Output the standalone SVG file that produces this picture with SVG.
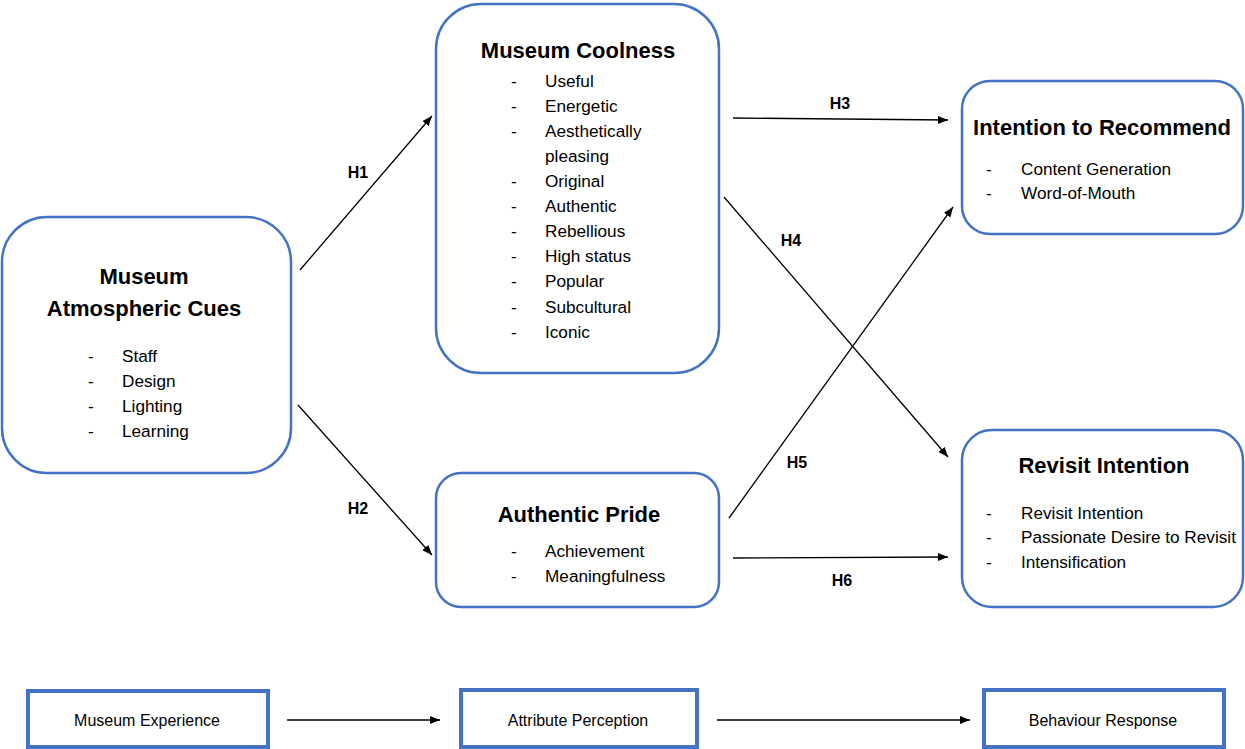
<svg xmlns="http://www.w3.org/2000/svg" width="1245" height="749" viewBox="0 0 1245 749">
<defs>
<marker id="ah" viewBox="0 0 10 10" refX="10" refY="5" markerWidth="10" markerHeight="10" markerUnits="userSpaceOnUse" orient="auto">
<path d="M0,1 L10,5 L0,9 Z" fill="#000"/>
</marker>
<style>
.box{fill:#fff;stroke:#4472C4;stroke-width:2.5}
.sq{fill:#fff;stroke:#4472C4;stroke-width:4}
.t{font-family:"Liberation Sans",Arial,sans-serif;font-weight:bold;font-size:22px;fill:#000;text-anchor:middle}
.i{font-family:"Liberation Sans",Arial,sans-serif;font-size:17.2px;fill:#000}
.h{font-family:"Liberation Sans",Arial,sans-serif;font-weight:bold;font-size:16px;fill:#000;text-anchor:middle}
.b{font-family:"Liberation Sans",Arial,sans-serif;font-size:16px;fill:#000;text-anchor:middle}
.c{stroke:#000;stroke-width:1.3;fill:none;marker-end:url(#ah)}
</style>
</defs>
<rect width="1245" height="749" fill="#fff"/>

<g id="connectors">
<line class="c" x1="300" y1="270" x2="432" y2="116"/>
<line class="c" x1="298" y1="405" x2="432" y2="555"/>
<line class="c" x1="733" y1="118" x2="948" y2="120"/>
<line class="c" x1="724" y1="197" x2="948" y2="457"/>
<line class="c" x1="729" y1="518" x2="953" y2="207"/>
<line class="c" x1="733" y1="558" x2="948" y2="557"/>
<line class="c" x1="287" y1="720" x2="440" y2="720"/>
<line class="c" x1="717" y1="720" x2="970" y2="720"/>
<text class="h" x="358" y="178">H1</text>
<text class="h" x="358" y="514">H2</text>
<text class="h" x="840" y="109">H3</text>
<text class="h" x="791" y="246">H4</text>
<text class="h" x="797" y="468">H5</text>
<text class="h" x="842" y="586">H6</text>
</g>

<g id="cues">
<rect class="box" x="2" y="217" width="289" height="256" rx="45"/>
<text class="t" x="144" y="284">Museum</text>
<text class="t" x="144" y="316">Atmospheric Cues</text>
<text class="i" x="88" y="362">-</text><text class="i" x="122" y="362">Staff</text>
<text class="i" x="88" y="387">-</text><text class="i" x="122" y="387">Design</text>
<text class="i" x="88" y="412">-</text><text class="i" x="122" y="412">Lighting</text>
<text class="i" x="88" y="437">-</text><text class="i" x="122" y="437">Learning</text>
</g>

<g id="coolness">
<rect class="box" x="436" y="4" width="283" height="369" rx="45"/>
<text class="t" x="578" y="58">Museum Coolness</text>
<text class="i" x="511" y="87">-</text><text class="i" x="545" y="87">Useful</text>
<text class="i" x="511" y="112">-</text><text class="i" x="545" y="112">Energetic</text>
<text class="i" x="511" y="137">-</text><text class="i" x="545" y="137">Aesthetically</text>
<text class="i" x="545" y="162">pleasing</text>
<text class="i" x="511" y="187">-</text><text class="i" x="545" y="187">Original</text>
<text class="i" x="511" y="212">-</text><text class="i" x="545" y="212">Authentic</text>
<text class="i" x="511" y="237">-</text><text class="i" x="545" y="237">Rebellious</text>
<text class="i" x="511" y="262">-</text><text class="i" x="545" y="262">High status</text>
<text class="i" x="511" y="287">-</text><text class="i" x="545" y="287">Popular</text>
<text class="i" x="511" y="313">-</text><text class="i" x="545" y="313">Subcultural</text>
<text class="i" x="511" y="338">-</text><text class="i" x="545" y="338">Iconic</text>
</g>

<g id="pride">
<rect class="box" x="436" y="473" width="283" height="134" rx="25"/>
<text class="t" x="579" y="522">Authentic Pride</text>
<text class="i" x="511" y="557">-</text><text class="i" x="545" y="557">Achievement</text>
<text class="i" x="511" y="582">-</text><text class="i" x="545" y="582">Meaningfulness</text>
</g>

<g id="recommend">
<rect class="box" x="962" y="81" width="281" height="153" rx="28"/>
<text class="t" x="1102" y="135">Intention to Recommend</text>
<text class="i" x="986" y="175">-</text><text class="i" x="1021" y="175">Content Generation</text>
<text class="i" x="986" y="199">-</text><text class="i" x="1021" y="199">Word-of-Mouth</text>
</g>

<g id="revisit">
<rect class="box" x="962" y="430" width="281" height="177" rx="30"/>
<text class="t" x="1104" y="473">Revisit Intention</text>
<text class="i" x="986" y="519">-</text><text class="i" x="1021" y="519">Revisit Intention</text>
<text class="i" x="986" y="543">-</text><text class="i" x="1021" y="543">Passionate Desire to Revisit</text>
<text class="i" x="986" y="568">-</text><text class="i" x="1021" y="568">Intensification</text>
</g>

<g id="experience">
<rect class="sq" x="28" y="691" width="240" height="56"/>
<text class="b" x="147" y="726">Museum Experience</text>
</g>
<g id="attribute">
<rect class="sq" x="461" y="690" width="236" height="57"/>
<text class="b" x="578" y="726">Attribute Perception</text>
</g>
<g id="behaviour">
<rect class="sq" x="984" y="690" width="240" height="57"/>
<text class="b" x="1103" y="726">Behaviour Response</text>
</g>
</svg>
